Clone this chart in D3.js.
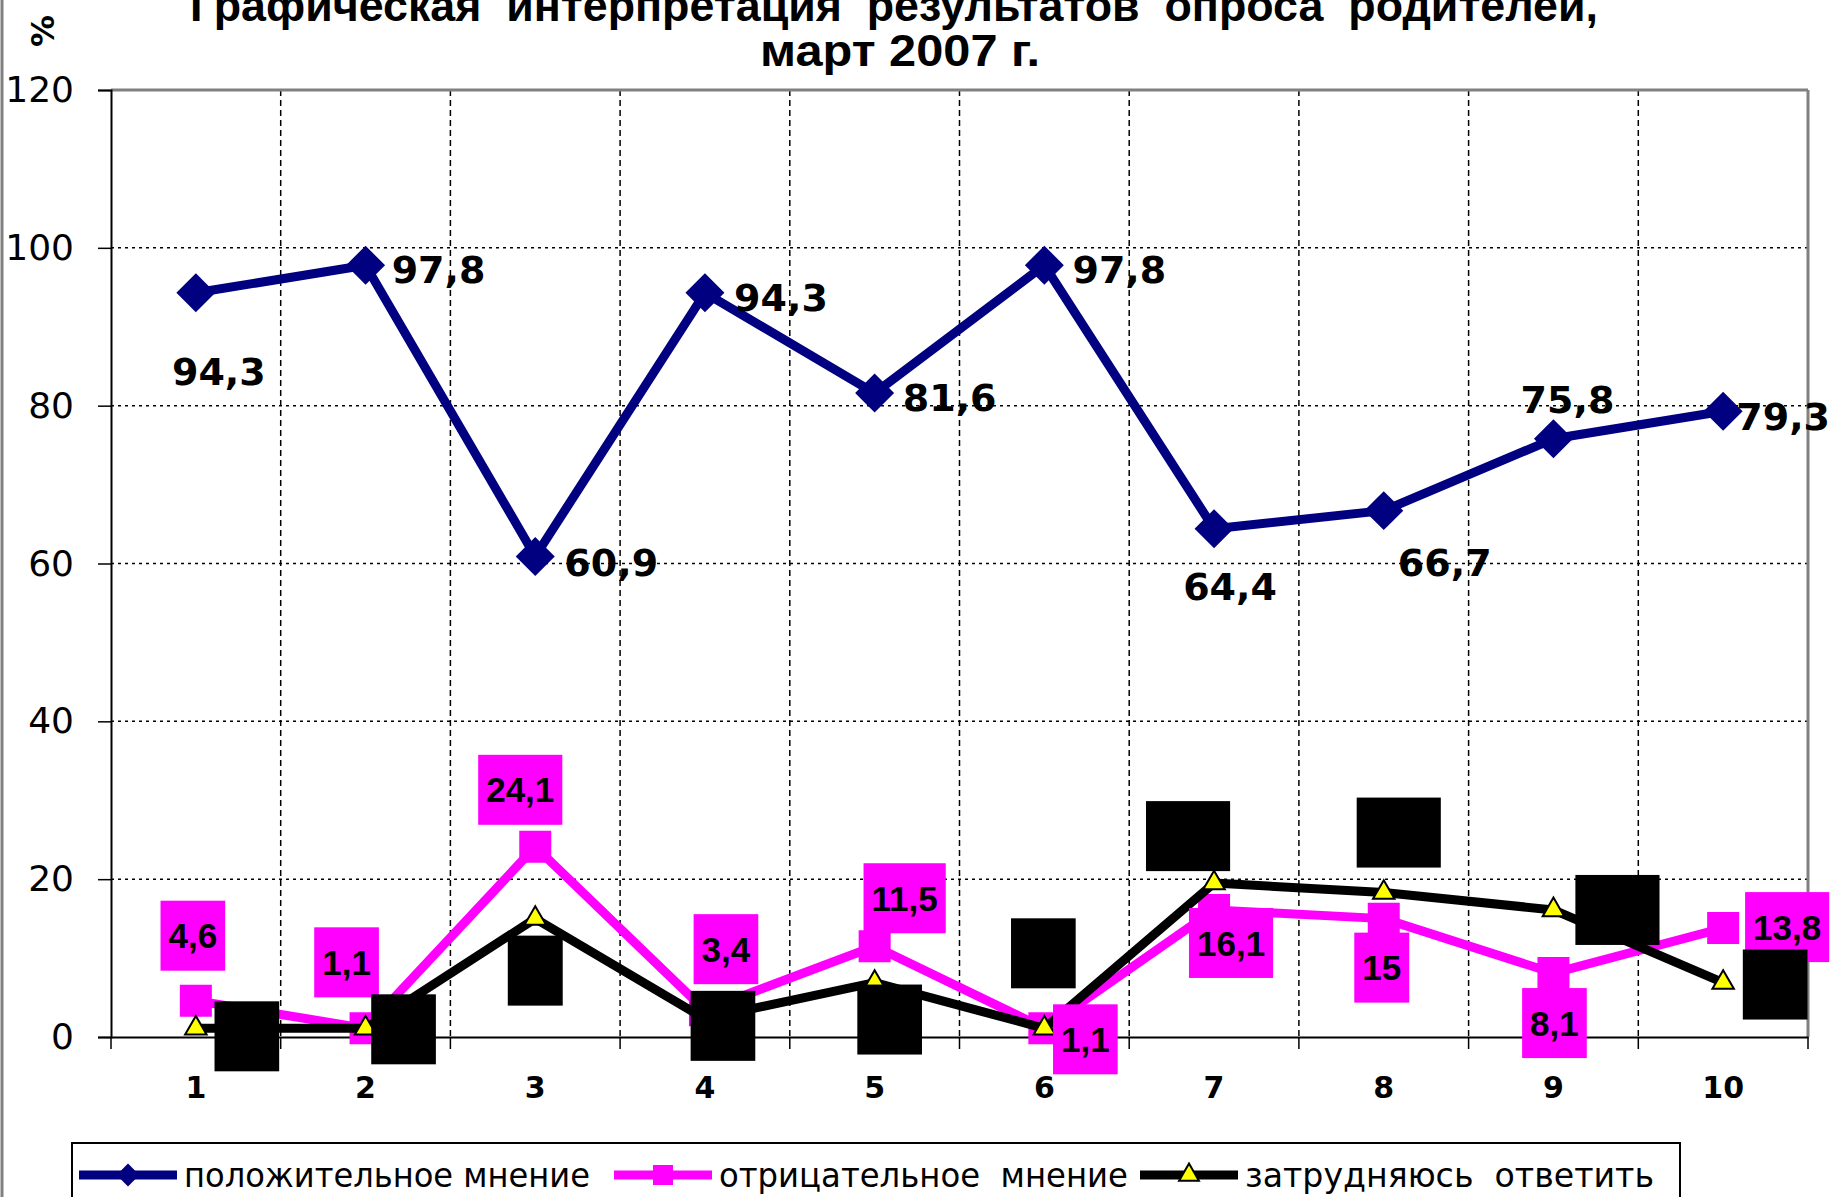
<!DOCTYPE html>
<html>
<head>
<meta charset="utf-8">
<script src="https://cdn.jsdelivr.net/npm/d3@7"></script>
<style>
  body { margin: 0; background: #fff; overflow: hidden; }
  svg { display: block; }
</style>
</head>
<body>
<div id="chart"></div>
<script>
// data
var categories = ["1", "2", "3", "4", "5", "6", "7", "8", "9", "10"];
var positive = [94.3, 97.8, 60.9, 94.3, 81.6, 97.8, 64.4, 66.7, 75.8, 79.3];
var negative = [4.6, 1.1, 24.1, 3.4, 11.5, 1.1, 16.1, 15, 8.1, 13.8];
var undecided = [1.1, 1.1, 15, 2.3, 6.9, 1.1, 19.5, 18.3, 16.1, 6.9];
var yTicks = [0, 20, 40, 60, 80, 100, 120];
var seriesNames = ["положительное мнение", "отрицательное  мнение", "затрудняюсь  ответить"];
var titleLines = ["Графическая  интерпретация  результатов  опроса  родителей,", "март 2007 г."];
var yUnit = "%";

// where each data label sits, px from its point (hand placed like in the original)
var posLabelShift = [[23, 79], [73, 4], [76, 6], [76, 5], [75, 4], [75, 4], [16, 58], [61, 52], [14, -39], [60, 5]];
var negLabelShift = [[-3, -65], [-19, -66], [-15, -57], [21, -61], [30, -48], [41, 11], [17, 33], [-2, 49], [1, 50], [64, -1]];
var undLabelShift = [[51, 8], [38, 1], [0, 52], [18, 7], [15, 37], [-1, -75], [-26, -47], [15, -60], [64, 0], [52, 2]];

var svgWidth = 1833;
var svgHeight = 1197;
var plot = { left: 111, right: 1808, top: 90, bottom: 1037 };

var svg = d3.select("#chart")
  .append("svg")
  .attr("width", svgWidth)
  .attr("height", svgHeight);

// scales
var x = d3.scaleBand()
  .domain(categories)
  .range([plot.left, plot.right]);
var y = d3.scaleLinear()
  .domain([0, 120])
  .range([plot.bottom, plot.top]);
function xMid(c) { return x(c) + x.bandwidth() / 2; }

// outer frame edge on the left
svg.append("line")
  .attr("x1", 2).attr("x2", 2).attr("y1", 0).attr("y2", svgHeight)
  .attr("stroke", "#808080").attr("stroke-width", 3);

// horizontal grid (dotted)
svg.append("g").selectAll("line")
  .data(yTicks.filter(function(d) { return d > 0 && d < 120; }))
  .enter().append("line")
  .attr("x1", plot.left).attr("x2", plot.right)
  .attr("y1", d => y(d)).attr("y2", d => y(d))
  .attr("stroke", "#000").attr("stroke-width", 1.5)
  .attr("stroke-dasharray", "3,4");

// vertical grid (dashed) at category boundaries
svg.append("g").selectAll("line")
  .data(categories.slice(1))
  .enter().append("line")
  .attr("x1", d => x(d)).attr("x2", d => x(d))
  .attr("y1", plot.top).attr("y2", plot.bottom)
  .attr("stroke", "#000").attr("stroke-width", 1.5)
  .attr("stroke-dasharray", "6,4");

// plot frame: top and right in grey
svg.append("line")
  .attr("x1", plot.left).attr("x2", plot.right).attr("y1", plot.top).attr("y2", plot.top)
  .attr("stroke", "#808080").attr("stroke-width", 3);
svg.append("line")
  .attr("x1", plot.right).attr("x2", plot.right).attr("y1", plot.top).attr("y2", plot.bottom)
  .attr("stroke", "#808080").attr("stroke-width", 3);

// y axis
var leftAxis = d3.axisLeft(y).tickValues(yTicks).tickSize(13).tickPadding(24);
var yAxisG = svg.append("g")
  .attr("transform", `translate(${plot.left}, 0)`)
  .call(leftAxis);
yAxisG.select(".domain").attr("stroke", "#000").attr("stroke-width", 2);
yAxisG.selectAll(".tick line").attr("stroke", "#000").attr("stroke-width", 1.5);
yAxisG.selectAll(".tick text")
  .attr("font-family", "DejaVu Sans, Verdana, sans-serif")
  .attr("font-size", "36px")
  .attr("fill", "#000");

// x axis: labels at band centres, ticks at band edges
var bottomAxis = d3.axisBottom(x).tickSize(0).tickPadding(40);
var xAxisG = svg.append("g")
  .attr("transform", `translate(0, ${plot.bottom})`)
  .call(bottomAxis);
xAxisG.select(".domain").attr("stroke", "#000").attr("stroke-width", 2);
xAxisG.selectAll(".tick text")
  .attr("font-family", "DejaVu Sans, Verdana, sans-serif")
  .attr("font-weight", "bold")
  .attr("font-size", "30px")
  .attr("fill", "#000");
svg.append("g").selectAll("line")
  .data(categories.concat(["end"]))
  .enter().append("line")
  .attr("x1", d => d === "end" ? plot.right : x(d))
  .attr("x2", d => d === "end" ? plot.right : x(d))
  .attr("y1", plot.bottom).attr("y2", plot.bottom + 12)
  .attr("stroke", "#000").attr("stroke-width", 1.5);

// series
var diamond = d3.symbol().type(d3.symbolSquare).size(760);
var square = d3.symbol().type(d3.symbolSquare).size(1024);
var triangle = d3.symbol().type(d3.symbolTriangle).size(200);

var line = d3.line()
  .x((d, i) => xMid(categories[i]))
  .y(d => y(d));

function drawSeries(values, color, marker, rotate, markerFill, markerStroke) {
  svg.append("path")
    .datum(values)
    .attr("d", line)
    .attr("fill", "none")
    .attr("stroke", color)
    .attr("stroke-width", 9)
    .attr("stroke-linejoin", "round");
  svg.append("g").selectAll("path")
    .data(values)
    .enter().append("path")
    .attr("d", marker)
    .attr("transform", (d, i) => `translate(${xMid(categories[i])}, ${y(d)}) rotate(${rotate})`)
    .attr("fill", markerFill)
    .attr("stroke", markerStroke || "none")
    .attr("stroke-width", markerStroke ? 2 : 0);
}

drawSeries(positive, "#000080", diamond, 45, "#000080");
drawSeries(negative, "#ff00ff", square, 0, "#ff00ff");
drawSeries(undecided, "#000000", triangle, 0, "#ffff00", "#000");

function fmt(v) { return String(v).replace(".", ","); }

// labels of the first series: plain bold text
svg.append("g").selectAll("text")
  .data(positive)
  .enter().append("text")
  .attr("x", (d, i) => xMid(categories[i]) + posLabelShift[i][0])
  .attr("y", (d, i) => y(d) + posLabelShift[i][1])
  .attr("dy", "0.36em")
  .attr("text-anchor", "middle")
  .attr("font-family", "DejaVu Sans, Verdana, sans-serif")
  .attr("font-weight", "bold")
  .attr("font-size", "38px")
  .attr("fill", "#000")
  .text(d => fmt(d));

// labels with a filled box behind them
function drawBoxLabels(values, shifts, boxFill) {
  var g = svg.append("g");
  values.forEach(function(v, i) {
    var cx = xMid(categories[i]) + shifts[i][0];
    var cy = y(v) + shifts[i][1];
    var lab = g.append("g");
    var rect = lab.append("rect");
    var t = lab.append("text")
      .attr("x", cx)
      .attr("y", cy)
      .attr("dy", "0.36em")
      .attr("text-anchor", "middle")
      .attr("font-family", "Liberation Sans, Arial, sans-serif")
      .attr("font-weight", "bold")
      .attr("font-size", "35px")
      .attr("fill", "#000")
      .text(fmt(v));
    var w = t.node().getComputedTextLength() + 16;
    rect.attr("x", cx - w / 2).attr("y", cy - 35)
      .attr("width", w).attr("height", 70)
      .attr("fill", boxFill);
  });
}
drawBoxLabels(negative, negLabelShift, "#ff00ff");
drawBoxLabels(undecided, undLabelShift, "#000000");

// title (the first line is cut by the top edge, as in the original)
svg.append("text")
  .attr("x", 894).attr("y", 21)
  .attr("text-anchor", "middle")
  .attr("font-family", "Liberation Sans, Arial, sans-serif")
  .attr("font-weight", "bold")
  .attr("font-size", "44px")
  .attr("textLength", 1408)
  .attr("lengthAdjust", "spacingAndGlyphs")
  .style("white-space", "pre")
  .text(titleLines[0]);
svg.append("text")
  .attr("x", 900).attr("y", 66)
  .attr("text-anchor", "middle")
  .attr("font-family", "Liberation Sans, Arial, sans-serif")
  .attr("font-weight", "bold")
  .attr("font-size", "44px")
  .attr("textLength", 280)
  .attr("lengthAdjust", "spacingAndGlyphs")
  .style("white-space", "pre")
  .text(titleLines[1]);

// unit label
svg.append("text")
  .attr("transform", "translate(42, 31) rotate(-90)")
  .attr("dy", "0.36em")
  .attr("text-anchor", "middle")
  .attr("font-family", "DejaVu Sans, Verdana, sans-serif")
  .attr("font-weight", "bold")
  .attr("font-size", "32px")
  .text(yUnit);

// legend
var legendItemX = [79, 614, 1140];
var legendTextW = [406, 409, 409];
var legendY = 1175;
svg.append("rect")
  .attr("x", 72).attr("y", 1143)
  .attr("width", 1608).attr("height", 80)
  .attr("fill", "#fff").attr("stroke", "#000").attr("stroke-width", 2);

var legendMarkers = [
  { color: "#000080", marker: d3.symbol().type(d3.symbolSquare).size(260), rotate: 45, fill: "#000080" },
  { color: "#ff00ff", marker: d3.symbol().type(d3.symbolSquare).size(400), rotate: 0, fill: "#ff00ff" },
  { color: "#000000", marker: d3.symbol().type(d3.symbolTriangle).size(170), rotate: 0, fill: "#ffff00", stroke: "#000" }
];
seriesNames.forEach(function(name, i) {
  var lx = legendItemX[i];
  var m = legendMarkers[i];
  svg.append("line")
    .attr("x1", lx).attr("x2", lx + 98)
    .attr("y1", legendY).attr("y2", legendY)
    .attr("stroke", m.color).attr("stroke-width", 9);
  svg.append("path")
    .attr("d", m.marker)
    .attr("transform", `translate(${lx + 49}, ${legendY}) rotate(${m.rotate})`)
    .attr("fill", m.fill)
    .attr("stroke", m.stroke || "none")
    .attr("stroke-width", m.stroke ? 2 : 0);
  svg.append("text")
    .attr("x", lx + 105).attr("y", legendY)
    .attr("dy", "0.36em")
    .attr("font-family", "DejaVu Sans, Verdana, sans-serif")
    .attr("font-size", "34px")
    .attr("textLength", legendTextW[i])
    .attr("lengthAdjust", "spacingAndGlyphs")
    .style("white-space", "pre")
    .attr("fill", "#000")
    .text(name);
});
</script>
</body>
</html>
